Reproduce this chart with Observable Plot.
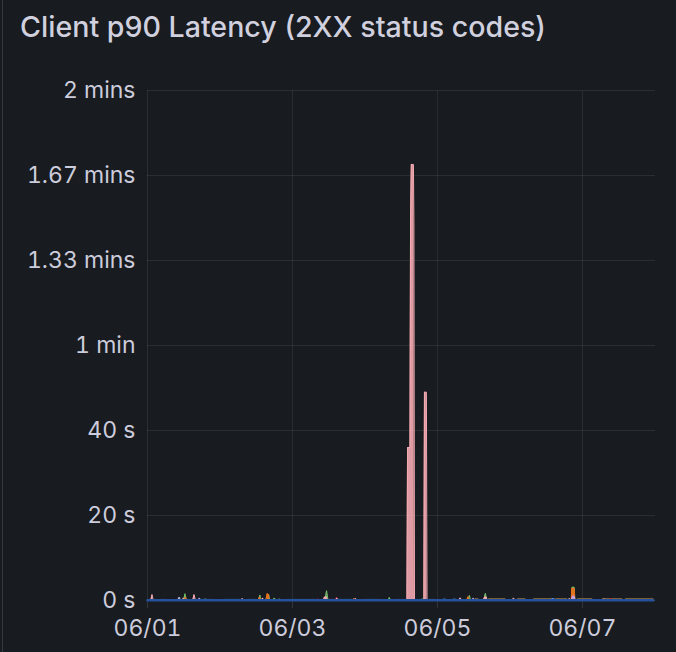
<!DOCTYPE html>
<html>
<head>
<meta charset="utf-8">
<script src="https://cdn.jsdelivr.net/npm/d3@7"></script>
<script src="https://cdn.jsdelivr.net/npm/@observablehq/plot@0.6"></script>
<style>
  html, body { margin: 0; padding: 0; background: #181b1f; }
  #panel { position: relative; width: 676px; height: 652px; background: #181b1f; overflow: hidden; font-family: Inter, "Noto Sans", sans-serif; }
  #border { position: absolute; left: 2px; top: 0; width: 1px; height: 652px; background: #34373d; }
  #title { position: absolute; left: 20px; top: 9px; font-size: 28.6px; font-weight: 500; color: #d0d0de; white-space: nowrap; line-height: 36px; }
  #chart { position: absolute; left: 0; top: 0; }
</style>
</head>
<body>
<div id="panel">
  <div id="border"></div>
  <div id="title">Client p90 Latency (2XX status codes)</div>
  <div id="chart"></div>
</div>
<script>
// hours since 06/01 00:00, value in seconds
const startDay = "2024-06-01";
const xTickLabels = ["06/01", "06/03", "06/05", "06/07"];
const xTickHours = [0, 48, 96, 144];
const yTicks = [0, 20, 40, 60, 80, 100, 120];
const yTickLabels = ["0 s", "20 s", "40 s", "1 min", "1.33 mins", "1.67 mins", "2 mins"];
const xEndHour = 168.2;

const lightOrange = [[107.5,0],[108.6,0.3],[109.6,0.3],[110.0,0],[112.5,0],[112.9,0.3],[118.5,0.3],[118.9,0],
  [122.1,0],[122.5,0.3],[125.1,0.3],[125.5,0],[127.4,0],[127.8,0.3],[134.1,0.3],[134.5,0],
  [134.8,0],[135.1,0.3],[139.0,0.3],[139.4,0],[142.0,0],[142.3,0.3],[147.3,0.3],[147.7,0],
  [150.3,0],[150.6,0.3],[157.2,0.3],[157.6,0],[157.9,0],[158.2,0.3],[167.5,0.3],[167.6,0]];
const blue = [[4.0,0],[4.3,0.25],[5.9,0.25],[6.2,0],[17.9,0],[18.2,0.25],[21.8,0.25],[22.1,0],
  [24.9,0],[25.2,0.25],[30.8,0.25],[31.1,0],[32.8,0],[33.1,0.25],[35.8,0.25],[36.1,0],
  [45.4,0],[45.7,0.25],[51.3,0.25],[51.6,0],[52.0,0],[52.3,0.25],[55.6,0.25],[55.9,0],
  [59.6,0],[59.9,0.25],[67.9,0.25],[68.2,0],[71.2,0],[71.5,0.25],[77.1,0.25],[77.4,0],
  [81.8,0],[82.1,0.25],[85.4,0.25],[85.7,0],[92.7,0],[93.0,0.25],[95.3,0.25],[95.6,0],
  [97.7,0],[98.0,0.3],[98.7,0.3],[99.0,0],[101.0,0],[101.3,0.3],[102.0,0.3],[102.3,0],
  [133.7,0],[134.0,0.4],[134.7,0.4],[135.0,0],[144.5,0],[144.8,0.25],[146.0,0.25],[146.3,0]];
const lavender = [[10.0,0],[10.4,0.7],[10.8,0],[16.8,0],[17.2,0.6],[17.6,0],[103.1,0],[103.5,0.6],[103.9,0],
  [107.5,0],[107.9,0.6],[108.3,0],[140.4,0],[140.7,1.0],[141.3,1.0],[141.6,0]];
const darkRed = [[56.0,0],[56.4,0.4],[56.8,0],[62.2,0],[62.6,0.7],[63.0,0],[153.1,0],[153.5,0.5],[153.9,0]];
const pink = [[1.1,0],[1.5,1.4],[1.9,0],[11.5,0],[11.9,0.6],[12.3,0],[15.0,0],[15.4,1.4],[15.9,0],
  [31.0,0],[31.4,0.5],[31.8,0],[37.8,0],[38.1,0.6],[38.5,0],[58.2,0],[58.6,0.8],[59.3,0.8],[59.6,0],
  [62.3,0],[62.7,0.6],[63.1,0],[68.5,0],[68.9,0.5],[69.3,0],
  [85.9,0],[86.1,36],[86.9,36],[87.1,90],[87.35,102.6],[88.05,102.6],[88.2,89.6],[88.4,0],
  [91.5,0],[91.7,49],[92.35,49],[92.55,0],
  [103.2,0],[103.6,0.6],[104.0,0],[111.2,0],[111.6,0.8],[112.2,0.8],[112.5,0],
  [120.8,0],[121.2,0.6],[121.6,0],[139.3,0],[139.7,0.5],[140.1,0],[150.8,0],[151.2,0.4],[151.6,0]];
const orange = [[12.2,0],[12.6,0.8],[13.0,0],[36.7,0],[37.1,0.8],[37.5,0],[39.2,0],[39.6,1.6],[40.0,1.5],[40.4,0],
  [68.0,0],[68.4,0.5],[68.8,0],[105.7,0],[106.1,0.9],[106.5,0],[140.3,0],[140.5,2.85],[141.3,2.85],[141.5,0]];
const green = [[10.2,0],[10.6,0.8],[11.0,0],[12.0,0],[12.4,1.6],[12.9,0],[18.8,0],[19.2,0.4],[19.6,0],
  [36.8,0],[37.2,1.3],[37.6,0],[39.7,0],[40.1,1.5],[40.5,0],[41.6,0],[42.0,0.6],[42.4,0],
  [43.3,0],[43.7,0.4],[44.1,0],[58.8,0],[59.3,2.3],[59.8,0],[79.7,0],[80.1,0.7],[80.5,0],
  [90.6,0],[91.0,0.4],[91.4,0],[106.2,0],[106.6,1.2],[107.0,0],[111.4,0],[111.9,1.7],[112.3,0],
  [140.4,0],[140.6,3.1],[141.3,3.1],[141.5,0]];
const baseline = [[0,0.05],[167.5,0.05]];

const seriesList = [
  {name: "lightOrange", color: "#ffb357", pts: lightOrange},
  {name: "blue", color: "#5794f2", pts: blue},
  {name: "green", color: "#73bf69", pts: green},
  {name: "orange", color: "#ee6f1a", pts: orange},
  {name: "lavender", color: "#c3a3ea", pts: lavender},
  {name: "darkRed", color: "#c4162a", pts: darkRed},
  {name: "pink", color: "#f4aab1", pts: pink}
];

const t0 = Date.parse(startDay + "T00:00:00Z");
const toDate = h => new Date(t0 + h * 3600e3);

const marks = [
  Plot.gridY(yTicks, {stroke: "#ccccdc", strokeOpacity: 0.1}),
  Plot.gridX(xTickHours.map(toDate), {stroke: "#ccccdc", strokeOpacity: 0.1}),
  Plot.axisX(xTickHours.map(toDate), {tickFormat: (d, i) => xTickLabels[i], tickSize: 8, tickPadding: 11, stroke: "#34373c", fill: "#ccccdc", fontSize: 23, label: null}),
  Plot.axisY(yTicks, {tickFormat: (d, i) => yTickLabels[i], tickSize: 0, tickPadding: 12, fill: "#ccccdc", fontSize: 23, label: null})
];
for (const s of seriesList) {
  const data = s.pts.map(([h, v]) => ({t: toDate(h), v}));
  marks.push(Plot.areaY(data, {x: "t", y: "v", fill: s.color, fillOpacity: 0.9}));
  marks.push(Plot.lineY(data, {x: "t", y: "v", stroke: s.color, strokeWidth: 1}));
}
marks.push(Plot.lineY(baseline.map(([h, v]) => ({t: toDate(h), v})), {x: "t", y: "v", stroke: "#24529c", strokeWidth: 2.5}));

const chart = Plot.plot({
  width: 676,
  height: 652,
  marginTop: 90,
  marginBottom: 52,
  marginLeft: 147,
  marginRight: 21,
  style: {background: "transparent", color: "#ccccdc", fontFamily: "Inter, 'Noto Sans', sans-serif", fontSize: "23px"},
  x: {type: "utc", domain: [toDate(0), toDate(xEndHour)]},
  y: {domain: [0, 120]},
  marks
});
document.getElementById("chart").appendChild(chart);
</script>
</body>
</html>
